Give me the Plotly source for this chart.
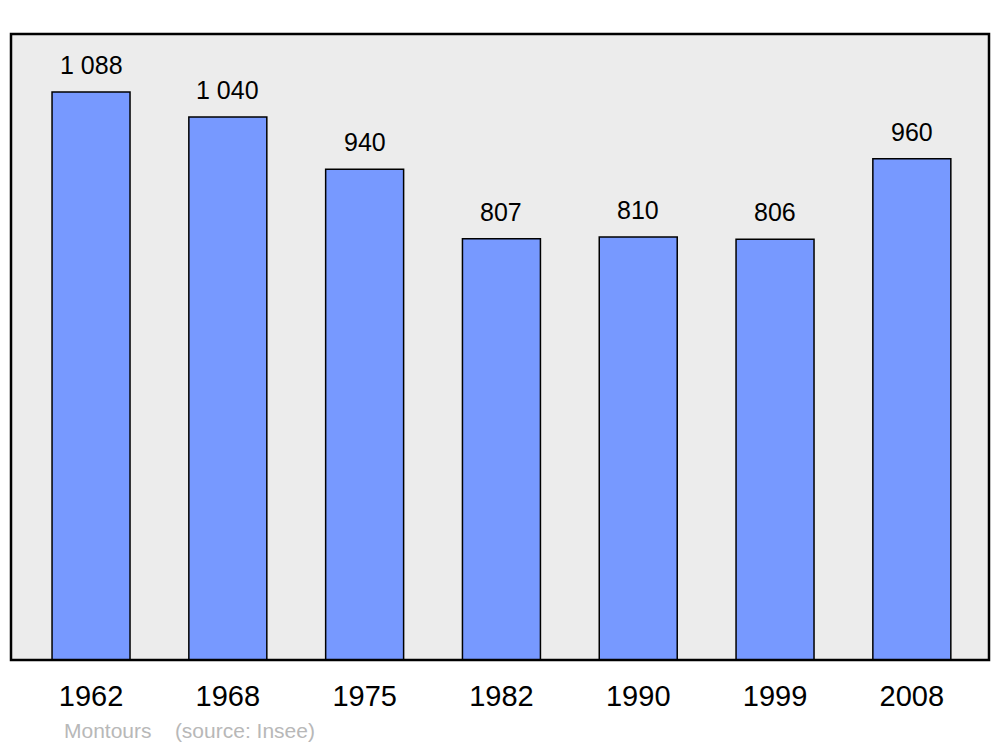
import plotly.graph_objects as go

years = ["1962", "1968", "1975", "1982", "1990", "1999", "2008"]
population = [1088, 1040, 940, 807, 810, 806, 960]
value_labels = ["1 088", "1 040", "940", "807", "810", "806", "960"]
commune = "Montours"
source = "(source: Insee)"

fig = go.Figure()
fig.add_trace(go.Bar(
    x=list(range(len(years))),
    y=population,
    width=0.57,
    marker=dict(color="#7799ff", line=dict(color="#000000", width=1.5)),
    hoverinfo="skip",
))

for i, (v, t) in enumerate(zip(population, value_labels)):
    fig.add_annotation(
        x=i, y=v, text=t, showarrow=False, yanchor="bottom", yshift=11,
        font=dict(family="Liberation Sans, Arial, sans-serif", size=25, color="#000000"),
    )

fig.add_annotation(
    xref="paper", yref="paper", x=0.052, y=-0.112, xanchor="left", yanchor="middle",
    text=commune + "&nbsp;&nbsp;&nbsp;&nbsp;" + source, showarrow=False,
    font=dict(family="Liberation Sans, Arial, sans-serif", size=21, color="#b8b8b8"),
)

fig.add_shape(
    type="rect", xref="paper", yref="paper", x0=0, y0=0, x1=1, y1=1,
    line=dict(color="#000000", width=2.5), layer="above",
)

fig.update_layout(
    width=1000, height=747,
    margin=dict(l=11, r=11, t=34, b=87),
    paper_bgcolor="#ffffff",
    plot_bgcolor="#ececec",
    showlegend=False,
    xaxis=dict(
        range=[-0.585, 6.564],
        tickmode="array", tickvals=list(range(len(years))), ticktext=years,
        showgrid=False, zeroline=False, showline=False,
        ticks="outside", ticklen=10, tickcolor="rgba(0,0,0,0)",
        tickfont=dict(family="Liberation Sans, Arial, sans-serif", size=29, color="#000000"),
        fixedrange=True,
    ),
    yaxis=dict(
        range=[0, 1199], showgrid=False, zeroline=False, showline=False,
        showticklabels=False, fixedrange=True,
    ),
)

fig.write_html(
    "out.html",
    config={"displayModeBar": False, "staticPlot": True},
    post_script="document.body.style.margin='0';document.body.style.overflow='hidden';",
)
